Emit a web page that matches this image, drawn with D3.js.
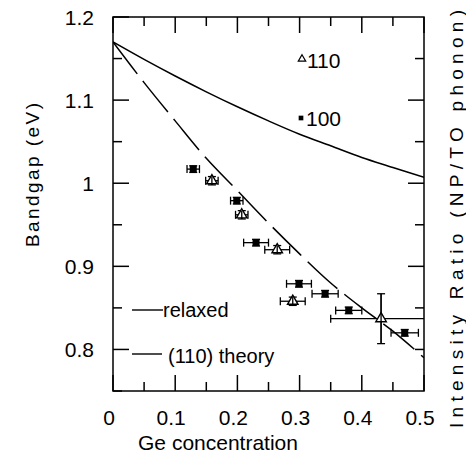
<!DOCTYPE html>
<html><head><meta charset="utf-8">
<script src="https://cdn.jsdelivr.net/npm/d3@7"></script>
<style>body{margin:0;background:#fff} svg{display:block}</style>
</head><body><svg id="c" width="466" height="458"></svg>
<script>
// ---- data ----
const xMajorTicks = [0,0.1,0.2,0.3,0.4,0.5];
const xMinorTicks = [0.05,0.15,0.25,0.35,0.45];
const xTickLabels = ["0","0.1","0.2","0.3","0.4","0.5"];
const yMajorTicks = [0.8,0.9,1.0,1.1,1.2];
const yMinorTicks = [0.75,0.85,0.95,1.05,1.15];
const yTickLabels = ["0.8","0.9","1","1.1","1.2"];
const rightMajorTicks = [0.3,0.5,0.7];
const rightMinorTicks = [0.1,0.2,0.4,0.6,0.8];

const curveX    = [0,0.05,0.1,0.15,0.2,0.25,0.3,0.35,0.4,0.45,0.5];
const relaxed   = [1.170,1.149,1.129,1.110,1.092,1.075,1.059,1.045,1.031,1.019,1.007];
const theory110 = [1.170,1.121,1.075,1.030,0.991,0.952,0.915,0.880,0.850,0.822,0.790];

const s100x    = [0.129,0.199,0.230,0.299,0.341,0.379,0.469];
const s100y    = [1.017,0.979,0.9285,0.879,0.867,0.847,0.820];
const s100xerr = [0.010,0.010,0.020,0.020,0.021,0.021,0.022];
const s100yerr = [0.004,0.004,0.004,0.004,0.004,0.004,0.004];

const s110x    = [0.159,0.207,0.264,0.289,0.431];
const s110y    = [1.003,0.962,0.920,0.858,0.837];
const s110xerr = [0.010,0.010,0.020,0.020,0.081];
const s110yerr = [0.005,0.005,0.005,0.005,0.030];

// ---- layout ----
const L = 113, R = 424, T = 17, B = 391;
const svg = d3.select("#c");
const x = d3.scaleLinear().domain([0,0.5]).range([L,R]);
const y = d3.scaleLinear().domain([0.75,1.2]).range([B,T]);
const yr = d3.scaleLinear().domain([0,0.9]).range([B,T]);
const font = "'Liberation Sans', Arial, Helvetica, sans-serif";
const MAJ = 16, MIN = 9;

svg.append("clipPath").attr("id","clip").append("rect")
  .attr("x",L).attr("y",T).attr("width",R-L).attr("height",B-T);

// frame
svg.append("rect").attr("x",L).attr("y",T).attr("width",R-L).attr("height",B-T)
  .attr("fill","none").attr("stroke","#000").attr("stroke-width",1.5);

// ticks (inward)
function tk(x1,y1,x2,y2){
  svg.append("line").attr("x1",x1).attr("y1",y1).attr("x2",x2).attr("y2",y2)
    .attr("stroke","#000").attr("stroke-width",1.5);
}
xMajorTicks.forEach(v=>{ tk(x(v),B,x(v),B-MAJ); tk(x(v),T,x(v),T+MAJ); });
xMinorTicks.forEach(v=>{ tk(x(v),B,x(v),B-MIN); tk(x(v),T,x(v),T+MIN); });
yMajorTicks.forEach(v=>tk(L,y(v),L+MAJ,y(v)));
yMinorTicks.forEach(v=>tk(L,y(v),L+MIN,y(v)));
rightMajorTicks.forEach(v=>tk(R,yr(v),R-MAJ,yr(v)));
rightMinorTicks.forEach(v=>tk(R,yr(v),R-MIN,yr(v)));

// tick labels
xTickLabels.forEach(s=>{
  svg.append("text").attr("x",x(+s)-4).attr("y",425).attr("text-anchor","middle")
    .attr("font-family",font).attr("font-size",21).text(s);
});
yTickLabels.forEach(s=>{
  svg.append("text").attr("x",94).attr("y",y(+s)+7.5).attr("text-anchor","end")
    .attr("font-family",font).attr("font-size",21).text(s);
});

// axis titles
svg.append("text").attr("x",218).attr("y",450).attr("text-anchor","middle")
  .attr("font-family",font).attr("font-size",21).text("Ge concentration");
svg.append("text").attr("transform","translate(39,175) rotate(-90)")
  .attr("text-anchor","middle").attr("font-family",font).attr("font-size",19)
  .attr("textLength",144).attr("lengthAdjust","spacing").text("Bandgap  (eV)");
svg.append("text").attr("transform","translate(463,219) rotate(-90)")
  .attr("text-anchor","middle").attr("font-family",font).attr("font-size",19)
  .attr("textLength",418).attr("lengthAdjust","spacing").text("Intensity  Ratio  (NP/TO  phonon)");

// curves
const line = d3.line().x((d,i)=>x(curveX[i])).y(d=>y(d)).curve(d3.curveCatmullRom);
const g = svg.append("g").attr("clip-path","url(#clip)");
g.append("path").attr("d",line(relaxed)).attr("fill","none").attr("stroke","#000").attr("stroke-width",1.5);
g.append("path").attr("d",line(theory110)).attr("fill","none").attr("stroke","#000").attr("stroke-width",1.5)
  .attr("stroke-dasharray","40,9");

// error bars
const ebg = svg.append("g").attr("clip-path","url(#clip)");
function seg(x1,y1,x2,y2){
  ebg.append("line").attr("x1",x1).attr("y1",y1).attr("x2",x2).attr("y2",y2)
    .attr("stroke","#000").attr("stroke-width",1.3);
}
function errbars(xs, ys, xe, ye){
  xs.forEach((xv,i)=>{
    const cx = x(xv), cy = y(ys[i]);
    const x1 = x(xv-xe[i]), x2 = x(xv+xe[i]);
    const y1 = y(ys[i]+ye[i]), y2 = y(ys[i]-ye[i]);
    seg(x1,cy,x2,cy); seg(x1,cy-4,x1,cy+4); seg(x2,cy-4,x2,cy+4);
    seg(cx,y1,cx,y2); seg(cx-4,y1,cx+4,y1); seg(cx-4,y2,cx+4,y2);
  });
}
errbars(s100x,s100y,s100xerr,s100yerr);
errbars(s110x,s110y,s110xerr,s110yerr);

// markers
const sq = d3.symbol(d3.symbolSquare,50);
const tri = d3.symbol(d3.symbolTriangle,48);
svg.append("g").selectAll("path").data(s100x).join("path")
  .attr("transform",(d,i)=>`translate(${x(d)},${y(s100y[i])})`)
  .attr("d",sq).attr("fill","#000");
svg.append("g").selectAll("path").data(s110x).join("path")
  .attr("transform",(d,i)=>`translate(${x(d)},${y(s110y[i])})`)
  .attr("d",tri).attr("fill","#fff").attr("stroke","#000").attr("stroke-width",1.4);
s110x.forEach((xv,i)=>{
  svg.append("line").attr("x1",x(xv)).attr("x2",x(xv))
    .attr("y1",y(s110y[i]+s110yerr[i])).attr("y2",y(s110y[i]-s110yerr[i]))
    .attr("stroke","#000").attr("stroke-width",1.3);
});

// legend
svg.append("path").attr("transform","translate(302,59)").attr("d",d3.symbol(d3.symbolTriangle,24))
  .attr("fill","#fff").attr("stroke","#000").attr("stroke-width",1.2);
svg.append("text").attr("x",307).attr("y",68).attr("font-family",font).attr("font-size",21).text("110");
svg.append("path").attr("transform","translate(301,118)").attr("d",d3.symbol(d3.symbolSquare,22)).attr("fill","#000");
svg.append("text").attr("x",306).attr("y",126).attr("font-family",font).attr("font-size",21).text("100");

svg.append("line").attr("x1",132).attr("x2",163).attr("y1",310).attr("y2",310).attr("stroke","#000").attr("stroke-width",1.4);
svg.append("text").attr("x",163).attr("y",317).attr("font-family",font).attr("font-size",20).text("relaxed");
svg.append("line").attr("x1",132).attr("x2",162).attr("y1",354).attr("y2",354).attr("stroke","#000").attr("stroke-width",1.4);
svg.append("text").attr("x",168).attr("y",363).attr("font-family",font).attr("font-size",20).text("(110) theory");
</script></body></html>
